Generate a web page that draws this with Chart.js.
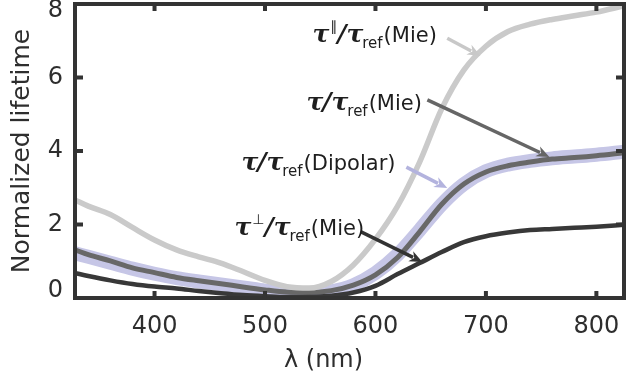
<!DOCTYPE html>
<html lang="en">
<head>
<meta charset="UTF-8">
<title>Normalized lifetime</title>
<script src="https://cdn.jsdelivr.net/npm/chart.js@4.4.1/dist/chart.umd.min.js"></script>
<style>
  body { margin: 0; background: #fff; }
  canvas { display: block; }
</style>
</head>
<body>
<canvas id="chart" width="626" height="379"></canvas>
<script>
// wavelength (nm)
const wavelengths = [328, 340, 360, 380, 400, 420, 440, 460, 480, 500, 520, 540, 560,
                     580, 600, 620, 640, 660, 680, 700, 720, 740, 760, 780, 800, 825];
// normalized lifetimes
const tauPara    = [2.67, 2.50, 2.27, 1.92, 1.58, 1.31, 1.12, 0.95, 0.72, 0.48, 0.31, 0.27, 0.45,
                    0.90, 1.60, 2.50, 3.70, 5.15, 6.20, 6.85, 7.25, 7.45, 7.58, 7.68, 7.78, 7.95];
const tauMie     = [1.31, 1.18, 1.01, 0.82, 0.69, 0.56, 0.47, 0.39, 0.30, 0.22, 0.16, 0.15, 0.20,
                    0.35, 0.63, 1.10, 1.80, 2.55, 3.10, 3.43, 3.60, 3.70, 3.78, 3.82, 3.87, 3.95];
const tauDipolar = [1.22, 1.12, 0.96, 0.80, 0.66, 0.54, 0.45, 0.37, 0.29, 0.20, 0.14, 0.12, 0.18,
                    0.35, 0.68, 1.18, 1.85, 2.55, 3.10, 3.45, 3.63, 3.73, 3.80, 3.85, 3.90, 3.98];
const tauPerp    = [0.68, 0.60, 0.48, 0.38, 0.31, 0.26, 0.19, 0.13, 0.08, 0.05, 0.03, 0.03, 0.06,
                    0.15, 0.33, 0.65, 0.95, 1.25, 1.52, 1.68, 1.78, 1.85, 1.88, 1.91, 1.94, 1.99];
const xTicks = [400, 500, 600, 700, 800];
const yTicks = [0, 2, 4, 6, 8];

// annotations: text anchor, arrow from -> to (data units)
const annPara    = { at: [543, 6.97], from: [665, 7.07], to: [695, 6.59] };
const annMie     = { at: [537.6, 5.12], from: [647, 5.39], to: [757.5, 3.84] };
const annDipolar = { at: [478.7, 3.48], from: [628, 3.56], to: [665, 2.99] };
const annPerp    = { at: [472.4, 1.71], from: [587, 1.80], to: [642.5, 0.98] };

const pts = ys => wavelengths.map((x, i) => ({ x: x, y: ys[i] }));

const AXIS_COLOR = '#333333';
const TEXT_COLOR = '#2e2e2e';
const TICK_FONT = '24px "DejaVu Sans"';
const TAU_FONT = 'italic bold 25px "DejaVu Serif"';
const SANS_FONT = '21px "DejaVu Sans"';
const SUB_FONT = '15px "DejaVu Sans"';

function drawRich(c, x, y, parts) {
  c.textAlign = 'left';
  c.textBaseline = 'alphabetic';
  c.fillStyle = '#1e1e1e';
  parts.forEach(p => {
    c.font = p.font;
    x += p.dx || 0;
    c.fillText(p.t, x, y + (p.dy || 0));
    x += c.measureText(p.t).width;
  });
}

function tauLabel(sup, name) {
  const parts = [{ t: 'τ', font: TAU_FONT }];
  if (sup) parts.push({ t: sup, font: '14px "DejaVu Sans"', dy: -11, dx: 1 });
  parts.push({ t: '/', font: TAU_FONT, dx: sup ? 0 : -1 });
  parts.push({ t: 'τ', font: TAU_FONT });
  parts.push({ t: 'ref', font: SUB_FONT, dy: 6, dx: -1 });
  parts.push({ t: '(' + name + ')', font: SANS_FONT, dx: 1 });
  return parts;
}

function drawArrow(c, x1, y1, x2, y2, color) {
  const a = Math.atan2(y2 - y1, x2 - x1);
  const len = 13, half = 5.5;
  const cos = Math.cos(a), sin = Math.sin(a);
  c.strokeStyle = color;
  c.fillStyle = color;
  c.lineWidth = 3.5;
  c.beginPath();
  c.moveTo(x1, y1);
  c.lineTo(x2 - len * 0.8 * cos, y2 - len * 0.8 * sin);
  c.stroke();
  c.beginPath();
  c.moveTo(x2, y2);
  c.lineTo(x2 - len * cos + half * sin, y2 - len * sin - half * cos);
  c.lineTo(x2 - len * 0.7 * cos, y2 - len * 0.7 * sin);
  c.lineTo(x2 - len * cos - half * sin, y2 - len * sin + half * cos);
  c.closePath();
  c.fill();
}

const framePlugin = {
  id: 'frame',
  afterDatasetsDraw(chart) {
    const c = chart.ctx;
    const a = chart.chartArea;
    const sx = chart.scales.x, sy = chart.scales.y;
    c.save();
    // box round the plot
    c.strokeStyle = AXIS_COLOR;
    c.lineWidth = 4;
    c.strokeRect(a.left, a.top, a.right - a.left, a.bottom - a.top);
    // inward tick marks on all four sides
    c.beginPath();
    xTicks.forEach(v => {
      const px = sx.getPixelForValue(v);
      c.moveTo(px, a.bottom); c.lineTo(px, a.bottom - 7);
      c.moveTo(px, a.top); c.lineTo(px, a.top + 7);
    });
    yTicks.forEach(v => {
      const py = sy.getPixelForValue(v);
      c.moveTo(a.left, py); c.lineTo(a.left + 8, py);
      c.moveTo(a.right, py); c.lineTo(a.right - 8, py);
    });
    c.stroke();

    // y tick labels, end ones pulled inside the canvas like the original
    c.font = TICK_FONT;
    c.fillStyle = TEXT_COLOR;
    c.textAlign = 'right';
    c.textBaseline = 'middle';
    yTicks.forEach(v => {
      const py = Math.min(Math.max(sy.getPixelForValue(v), a.top + 7), a.bottom - 7);
      c.fillText(String(v), a.left - 12, py);
    });

    const P = p => [sx.getPixelForValue(p[0]), sy.getPixelForValue(p[1])];
    const drawAnn = (ann, color, parts) => {
      const f = P(ann.from), t = P(ann.to), at = P(ann.at);
      drawArrow(c, f[0], f[1], t[0], t[1], color);
      drawRich(c, at[0], at[1], parts);
    };
    drawAnn(annPara, '#c8c8c8', tauLabel('∥', 'Mie'));
    drawAnn(annMie, '#666666', tauLabel('', 'Mie'));
    drawAnn(annDipolar, '#b3b3de', tauLabel('', 'Dipolar'));
    drawAnn(annPerp, '#333333', tauLabel('⊥', 'Mie'));

    // x axis title, sits left of the axis centre in the original
    c.font = TICK_FONT;
    c.fillStyle = TEXT_COLOR;
    c.textAlign = 'center';
    c.textBaseline = 'alphabetic';
    c.fillText('λ (nm)', sx.getPixelForValue(553), 367);
    c.restore();
  }
};

new Chart(document.getElementById('chart').getContext('2d'), {
  type: 'line',
  data: {
    datasets: [
      { label: 'perp', data: pts(tauPerp), borderColor: '#383838', borderWidth: 4.5, order: 1 },
      { label: 'para', data: pts(tauPara), borderColor: '#cacaca', borderWidth: 5.5, order: 2 },
      { label: 'Mie', data: pts(tauMie), borderColor: '#686868', borderWidth: 5, order: 3 },
      { label: 'Dipolar', data: pts(tauDipolar), borderColor: '#c6c6e6', borderWidth: 14, order: 4 }
    ]
  },
  options: {
    responsive: false,
    animation: false,
    events: [],
    layout: { padding: { top: 4, right: 2, left: 0, bottom: 0 } },
    elements: {
      point: { radius: 0 },
      line: { tension: 0.4, cubicInterpolationMode: 'monotone', fill: false,
              borderCapStyle: 'round', borderJoinStyle: 'round' }
    },
    plugins: { legend: { display: false }, tooltip: { enabled: false } },
    scales: {
      x: {
        type: 'linear', min: 328, max: 825,
        grid: { display: false, drawTicks: false },
        border: { display: false },
        afterFit: s => { s.height = 81; s.paddingLeft = 0; s.paddingRight = 0; },
        afterBuildTicks: s => { s.ticks = xTicks.map(v => ({ value: v })); },
        ticks: { padding: 14, color: TEXT_COLOR, font: { family: 'DejaVu Sans', size: 24 } }
      },
      y: {
        min: 0, max: 8,
        grid: { display: false, drawTicks: false },
        border: { display: false },
        afterFit: s => { s.width = 75; s.paddingTop = 0; s.paddingBottom = 0; },
        afterBuildTicks: s => { s.ticks = yTicks.map(v => ({ value: v })); },
        ticks: { display: false },
        title: { display: true, text: 'Normalized lifetime', color: TEXT_COLOR,
                 font: { family: 'DejaVu Sans', size: 25 }, padding: { top: 7, bottom: 0 } }
      }
    }
  },
  plugins: [framePlugin]
});
</script>
</body>
</html>
